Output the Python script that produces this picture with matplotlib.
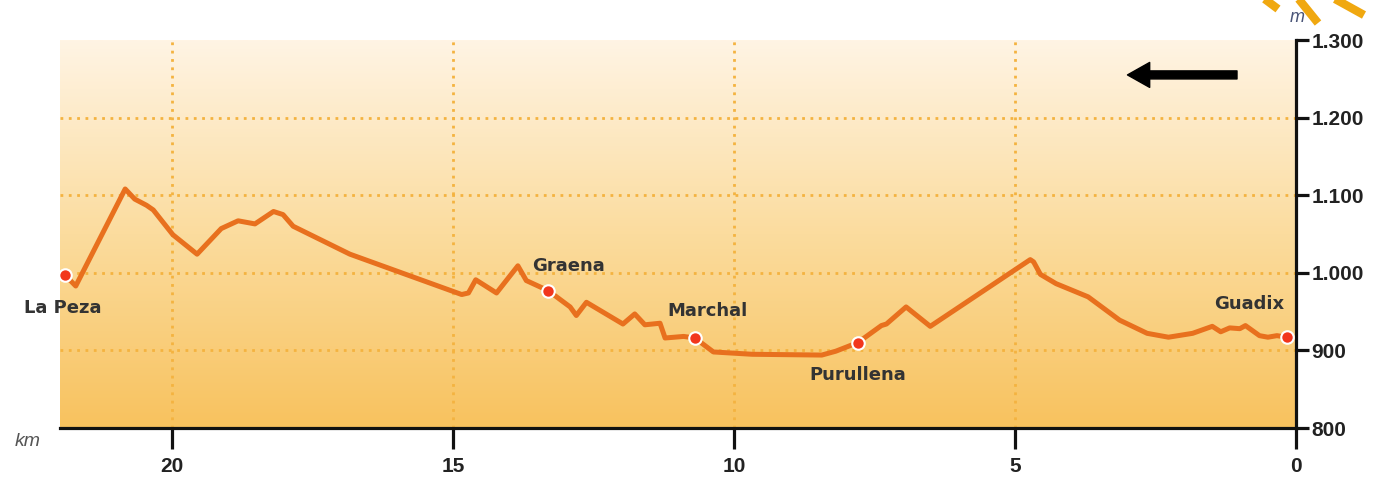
import numpy as np
import matplotlib
matplotlib.use('Agg')
import matplotlib.pyplot as plt
from matplotlib.colors import LinearSegmentedColormap
from matplotlib.lines import Line2D

# elevation profile, La Peza (km 22) -> Guadix (km 0)
dist_km = [21.91, 21.72, 20.84, 20.67, 20.46, 20.34, 19.99, 19.56, 19.13, 19.04,
           18.83, 18.53, 18.20, 18.03, 17.85, 16.84, 14.85, 14.73, 14.60, 14.23,
           13.85, 13.70, 13.52, 13.31, 12.92, 12.81, 12.63, 11.98, 11.77, 11.59,
           11.32, 11.23, 10.90, 10.70, 10.37, 9.68, 8.44, 8.19, 7.80, 7.38,
           7.29, 6.94, 6.51, 4.73, 4.67, 4.55, 4.27, 3.70, 3.14, 2.65,
           2.27, 1.84, 1.49, 1.34, 1.18, 1.00, 0.90, 0.65, 0.50, 0.34, 0.16]
elev_m = [997, 983, 1108, 1095, 1087, 1081, 1049, 1024, 1057, 1060,
          1067, 1063, 1079, 1075, 1060, 1024, 972, 974, 991, 974,
          1009, 990, 984, 977, 956, 945, 962, 934, 947, 933,
          935, 916, 918, 916, 898, 895, 894, 899, 910, 932,
          934, 956, 931, 1017, 1014, 998, 986, 969, 939, 922,
          917, 922, 931, 924, 929, 928, 932, 919, 917, 919, 917]

# villages along the route
town_names = ['La Peza', 'Graena', 'Marchal', 'Purullena', 'Guadix']
town_km = [21.91, 13.31, 10.70, 7.80, 0.16]
town_elev = [997, 977, 916, 910, 917]

xticks = [20, 15, 10, 5, 0]
yticks = [800, 900, 1000, 1100, 1200, 1300]
ylabels = ['800', '900', '1.000', '1.100', '1.200', '1.300']

W, H = 1391, 480
fig = plt.figure(figsize=(W / 100, H / 100), dpi=100)
ax = fig.add_axes([60 / W, 1 - 428 / H, (1296 - 60) / W, (428 - 40) / H])

# background gradient
cmap = LinearSegmentedColormap.from_list('bg', ['#F8C25E', '#FBDC9E', '#FFF4E4'])
ax.imshow(np.linspace(0, 1, 256).reshape(-1, 1), cmap=cmap, origin='lower',
          extent=[22, 0, 800, 1300], aspect='auto', zorder=0)
ax.set_xlim(22, 0)
ax.set_ylim(800, 1300)

# dotted grid
for y in yticks[1:-1]:
    ax.axhline(y, color='#F4B340', lw=2, ls=(0, (1, 2)), zorder=1)
for x in xticks[:-1]:
    ax.axvline(x, color='#F4B340', lw=2, ls=(0, (1, 2)), zorder=1)

# profile
ax.plot(dist_km, elev_m, color='#E8701E', lw=3.6, solid_joinstyle='round',
        solid_capstyle='round', zorder=3)
ax.plot(town_km, town_elev, 'o', color='#F2361C', ms=9, mec='white', mew=1.5,
        zorder=4, clip_on=False)

offsets = [(-2, -33), (20, 25), (13, 27), (0, -32), (-38, 33)]
for name, x, y, off in zip(town_names, town_km, town_elev, offsets):
    ax.annotate(name, (x, y), xytext=off, textcoords='offset pixels',
                ha='center', va='center', fontsize=13, fontweight='bold',
                family='DejaVu Sans', color='#333333', zorder=5)

# direction arrow
ax.annotate('', xy=(3.0, 1255), xytext=(1.05, 1255),
            arrowprops=dict(arrowstyle='simple,head_length=0.8,head_width=0.9,tail_width=0.29',
                            color='black', mutation_scale=20, shrinkA=0, shrinkB=0))

# axes styling
for s in ['left', 'top']:
    ax.spines[s].set_visible(False)
for s in ['bottom', 'right']:
    ax.spines[s].set_linewidth(2.3)
    ax.spines[s].set_color('#111111')
ax.yaxis.tick_right()
ax.set_xticks(xticks, [str(v) for v in xticks])
ax.set_yticks(yticks, ylabels)
ax.tick_params(axis='x', length=15, width=2.3, pad=6, labelsize=15, color='#111111')
ax.tick_params(axis='y', length=9, width=2.3, pad=2, labelsize=15, color='#111111')
for lab in ax.get_xticklabels() + ax.get_yticklabels():
    lab.set_fontweight('bold')
    lab.set_family('Liberation Sans')
    lab.set_color('#222222')

fig.text(28 / W, 1 - 441 / H, 'km', ha='center', va='center', fontsize=14,
         style='italic', color='#555555', family='Liberation Sans')
fig.text(1297 / W, 1 - 18 / H, 'm', ha='center', va='center', fontsize=13,
         style='italic', color='#4A5578', family='Liberation Sans')

# sun rays in the corner
rays = [((1258, -6), (1278, 9)), ((1293, -8), (1318, 23)), ((1326, -6), (1364, 15))]
for (x0, y0), (x1, y1) in rays:
    fig.add_artist(Line2D([x0 / W, x1 / W], [1 - y0 / H, 1 - y1 / H],
                          transform=fig.transFigure, color='#F0A810', lw=6,
                          solid_capstyle='butt'))

fig.savefig('out.png', dpi=100)
